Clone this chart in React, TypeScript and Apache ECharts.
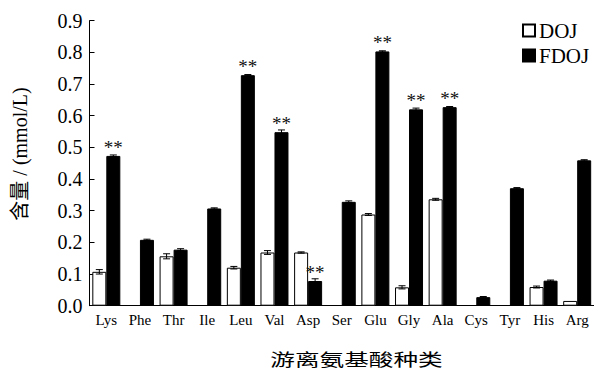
import React, { useEffect, useRef } from "react";
import * as echarts from "echarts";

const categories = ["Lys", "Phe", "Thr", "Ile", "Leu", "Val", "Asp", "Ser", "Glu", "Gly", "Ala", "Cys", "Tyr", "His", "Arg"];
const dojValues: (number | null)[] = [0.107, null, 0.156, null, 0.12, 0.168, 0.168, null, 0.288, 0.058, 0.336, null, null, 0.059, 0.015];
const fdojValues: number[] = [0.473, 0.208, 0.177, 0.307, 0.728, 0.548, 0.078, 0.328, 0.803, 0.62, 0.627, 0.027, 0.371, 0.079, 0.459];
const dojErrors: number[] = [0.007, 0, 0.008, 0, 0.004, 0.006, 0.002, 0, 0.003, 0.005, 0.003, 0, 0, 0.003, 0];
const fdojErrors: number[] = [0.003, 0.002, 0.003, 0.002, 0.002, 0.007, 0.007, 0.003, 0.002, 0.004, 0.002, 0.002, 0.002, 0.002, 0.002];
const significance: string[] = ["**", "", "", "", "**", "**", "**", "", "**", "**", "**", "", "", "", ""];
const yTicks = [0, 0.1, 0.2, 0.3, 0.4, 0.5, 0.6, 0.7, 0.8, 0.9];

const SERIF = "'Liberation Serif', serif";
const CJK = "Noto Sans CJK SC, sans-serif";
const MIXED = "'Liberation Serif', 'Noto Sans CJK SC', serif";
const BAR_W = 14;

function errorSeries(values: (number | null)[], errors: number[], offset: number) {
  const data = values
    .map((v, i) => (v == null || !errors[i] ? null : [i, v, errors[i]]))
    .filter((d) => d !== null);
  return {
    type: "custom",
    z: 5,
    silent: true,
    encode: { x: 0, y: 1 },
    data,
    renderItem: (params: any, api: any) => {
      const i = api.value(0);
      const v = api.value(1);
      const e = api.value(2);
      const top = api.coord([i, v + e]);
      const bot = api.coord([i, v - e]);
      const x = top[0] + offset;
      const cw = 3.5;
      const style = { stroke: "#000", lineWidth: 1 };
      return {
        type: "group",
        children: [
          { type: "line", shape: { x1: x, y1: top[1], x2: x, y2: bot[1] }, style },
          { type: "line", shape: { x1: x - cw, y1: top[1], x2: x + cw, y2: top[1] }, style },
          { type: "line", shape: { x1: x - cw, y1: bot[1], x2: x + cw, y2: bot[1] }, style },
        ],
      };
    },
  };
}

export default function App() {
  const ref = useRef<HTMLDivElement>(null);
  useEffect(() => {
    if (!ref.current) return;
    const chart = echarts.init(ref.current, null, { renderer: "svg" });
    chart.setOption({
      animation: false,
      backgroundColor: "#fff",
      grid: { left: 89.5, right: -2.5, top: 20.7, bottom: 66.3, containLabel: false },
      legend: {
        orient: "vertical",
        left: 517,
        top: 15,
        itemWidth: 12,
        itemHeight: 12,
        itemGap: 4,
        icon: "rect",
        data: ["DOJ", "FDOJ"],
        textStyle: { fontFamily: SERIF, fontSize: 21, color: "#000", padding: [0, 0, 0, -1] },
      },
      xAxis: {
        type: "category",
        data: categories,
        axisLine: { lineStyle: { color: "#000", width: 1 } },
        axisTick: { show: false },
        axisLabel: { color: "#000", fontFamily: SERIF, fontSize: 15, margin: 7 },
      },
      yAxis: {
        type: "value",
        min: 0,
        max: 0.9,
        interval: 0.1,
        axisLine: { show: true, lineStyle: { color: "#000", width: 1 } },
        axisTick: { show: true, inside: true, length: 5, lineStyle: { color: "#000" } },
        splitLine: { show: false },
        axisLabel: {
          color: "#000",
          fontFamily: SERIF,
          fontSize: 20,
          margin: 7,
          formatter: (v: number) => (yTicks.some((t) => Math.abs(t - v) < 1e-9) ? v.toFixed(1) : ""),
        },
      },
      graphic: [
        {
          type: "text",
          x: 20,
          y: 154,
          rotation: Math.PI / 2,
          style: {
            text: "含量 / (mmol/L)",
            fontFamily: MIXED,
            fontSize: 20,
            fill: "#000",
            align: "center",
            verticalAlign: "middle",
          },
        },
        {
          type: "text",
          x: 356.5,
          y: 358,
          scaleX: 1.45,
          style: {
            text: "游离氨基酸种类",
            fontFamily: CJK,
            fontSize: 17,
            fill: "#000",
            align: "center",
            verticalAlign: "middle",
          },
        },
      ],
      series: [
        {
          name: "DOJ",
          type: "bar",
          barWidth: BAR_W,
          barGap: "0%",
          data: dojValues.map((v) => (v == null ? "-" : v)),
          itemStyle: { color: "#fff", borderColor: "#000", borderWidth: 1 },
        },
        {
          name: "FDOJ",
          type: "bar",
          barWidth: BAR_W,
          barGap: "0%",
          data: fdojValues,
          itemStyle: { color: "#000", borderColor: "#000", borderWidth: 1 },
          label: {
            show: true,
            position: "top",
            distance: -1,
            color: "#111",
            fontFamily: SERIF,
            fontSize: 19,
            formatter: (p: any) => significance[p.dataIndex],
          },
        },
        errorSeries(dojValues, dojErrors, -BAR_W / 2),
        errorSeries(fdojValues, fdojErrors, BAR_W / 2),
      ],
    });
    return () => chart.dispose();
  }, []);
  return <div ref={ref} style={{ position: "fixed", left: 0, top: 0, width: 594, height: 372 }} />;
}
